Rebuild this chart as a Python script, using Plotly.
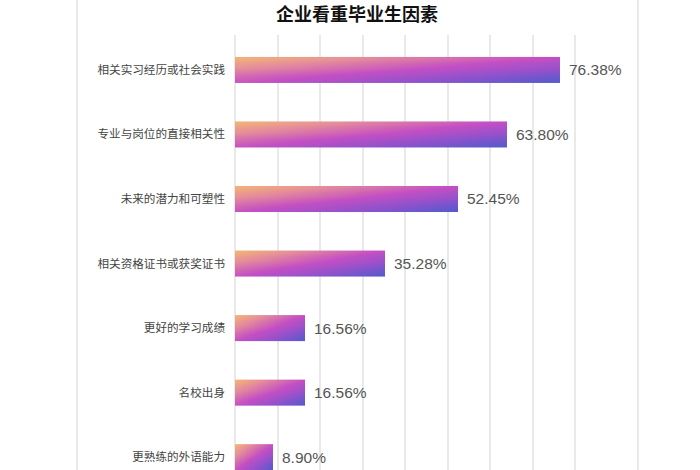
import numpy as np
import plotly.graph_objects as go

title = "企业看重毕业生因素"
categories = [
    "相关实习经历或社会实践",
    "专业与岗位的直接相关性",
    "未来的潜力和可塑性",
    "相关资格证书或获奖证书",
    "更好的学习成绩",
    "名校出身",
    "更熟练的外语能力",
]
values = [76.38, 63.80, 52.45, 35.28, 16.56, 16.56, 8.90]
value_labels = [f"{v:.2f}%" for v in values]

grad_scale = [
    [0.0, "#f4b873"],
    [0.22, "#e58d9a"],
    [0.5, "#c44fc4"],
    [0.75, "#8e52cc"],
    [1.0, "#4c5ccb"],
]

bar_half = 0.2
nx, ny = 30, 8

fig = go.Figure()
for i, v in enumerate(values):
    xe = np.linspace(0, v, nx + 1)
    ye = np.linspace(i - bar_half, i + bar_half, ny + 1)
    u = (np.arange(nx) + 0.5) / nx
    w = (np.arange(ny) + 0.5) / ny
    z = (u[None, :] + w[:, None]) / 2.0
    fig.add_trace(go.Heatmap(
        x=xe, y=ye, z=z, colorscale=grad_scale, zmin=0, zmax=1,
        zsmooth="best", showscale=False, hoverinfo="skip",
    ))

for i, (v, lab) in enumerate(zip(values, value_labels)):
    fig.add_annotation(
        x=v, y=i, text=lab, showarrow=False, xanchor="left", yanchor="middle",
        xshift=7,
        font=dict(size=15.5, color="#555555", family="Liberation Sans, Arial, sans-serif"),
    )

fig.add_shape(type="rect", xref="paper", yref="paper",
              x0=-0.4125, x1=1.052, y0=-0.05, y1=1.2,
              line=dict(color="#e3e3e3", width=1.5), layer="below")

fig.update_layout(
    width=700, height=470,
    margin=dict(l=235, r=82, t=35, b=0),
    paper_bgcolor="white", plot_bgcolor="white",
    title=dict(text=f"<b>{title}</b>", x=0.51, xanchor="center",
               y=1 - 15 / 470, yanchor="middle",
               font=dict(size=18, color="#111111", family="Noto Sans CJK SC")),
    showlegend=False,
    font=dict(family="Noto Sans CJK SC"),
)
fig.update_xaxes(range=[0, 90], dtick=10, showgrid=True, gridcolor="#e9e9e9",
                 gridwidth=1.5, zeroline=True, zerolinecolor="#e9e9e9",
                 zerolinewidth=1.5, showticklabels=False, ticks="", fixedrange=True)
fig.update_yaxes(range=[6.2, -0.54], tickvals=list(range(len(categories))),
                 ticktext=categories, showgrid=False, zeroline=False, ticks="",
                 ticklabelstandoff=9, fixedrange=True,
                 tickfont=dict(size=11.6, color="#444444", family="Noto Sans CJK SC"))

fig.write_html("out.html", config={"displayModeBar": False},
               post_script="document.body.style.margin='0';")
